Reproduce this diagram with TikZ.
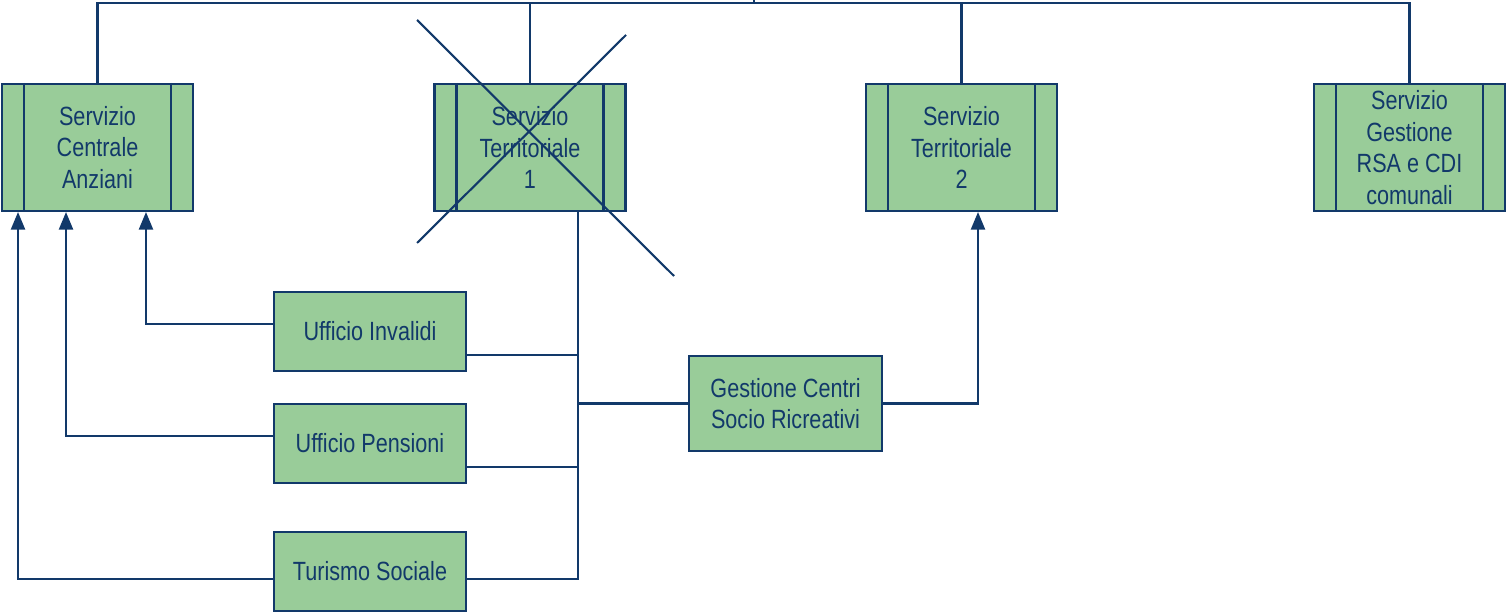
\documentclass[tikz,border=0pt]{standalone}
\usepackage{fontspec}
\setmainfont{Liberation Sans}[FakeStretch=0.82]
\usepackage{tikz}
\usetikzlibrary{positioning,arrows.meta}
\definecolor{OrgNavy}{HTML}{12396A}
\definecolor{OrgGreen}{HTML}{99CC99}

\begin{document}
\begin{tikzpicture}[x=0.02cm, y=-0.02cm, >={Triangle[length=10pt,width=8pt]},
                    every node/.style={draw=OrgNavy, line width=1.2pt, fill=OrgGreen,
                                       text=OrgNavy, align=center, inner sep=0pt,
                                       font=\fontsize{15}{18}\selectfont},
                    servbox/.style={minimum width=3.82cm, minimum height=2.54cm},
                    uffbox/.style={minimum width=3.84cm, minimum height=1.58cm},
                    every path/.style={draw=OrgNavy, line width=1.2pt}]
\useasboundingbox[draw=none] (0,0) rectangle (1506,614);
\node[servbox] (sca) at (97.5,147.5) {Servizio\\Centrale\\Anziani};
\node[servbox] (st1) at (530,147.5) {Servizio\\Territoriale\\1};
\node[servbox] (st2) at (961.5,147.5) {Servizio\\Territoriale\\2};
\node[servbox] (sg) at (1409.5,147.5) {Servizio\\Gestione\\RSA e CDI\\comunali};
\node[uffbox] (ui) at (370,331.5) {Ufficio Invalidi};
\node[uffbox] (up) at (370,443.5) {Ufficio Pensioni};
\node[uffbox] (ts) at (370,571.5) {Turismo Sociale};
\node[uffbox, minimum width=3.86cm, minimum height=1.9cm] (gc) at (785.5,403.5)
     {Gestione Centri\\Socio Ricreativi};
% side bars
\foreach \n in {sca,st1,st2,sg}
  \draw ([xshift=0.46cm]\n.north west) -- ([xshift=0.46cm]\n.south west)
        ([xshift=-0.46cm]\n.north east) -- ([xshift=-0.46cm]\n.south east);
% top bus
\coordinate (bus) at (754,3);
\coordinate (up1) at (754,0);
\draw (sca.north) |- (bus) -| (sg.north);
\draw (st1.north) -- (st1.north |- bus);
\draw (st2.north) -- (st2.north |- bus);
\draw (bus) -- (up1);
% trunk under territoriale 1
\coordinate (trunk) at (578,211);
\draw (trunk) |- ([yshift=-0.15cm]ts.east);
\draw ([yshift=-0.47cm]ui.east) -- ([yshift=-0.47cm]ui.east -| trunk);
\draw ([yshift=-0.47cm]up.east) -- ([yshift=-0.47cm]up.east -| trunk);
\draw (gc.west) -- (gc.west -| trunk);
\draw[->] (gc.east) -| ([xshift=0.33cm]st2.south);
% links to servizio centrale
\draw[->] ([yshift=0.15cm]ui.west) -| ([xshift=0.97cm]sca.south);
\draw[->] ([yshift=0.15cm]up.west) -| ([xshift=-0.63cm]sca.south);
\draw[->] ([yshift=-0.15cm]ts.west) -| ([xshift=-1.59cm]sca.south);
% cross
\draw (417,20) -- (674,276);
\draw (417,243) -- (626,35);
\end{tikzpicture}
\end{document}
